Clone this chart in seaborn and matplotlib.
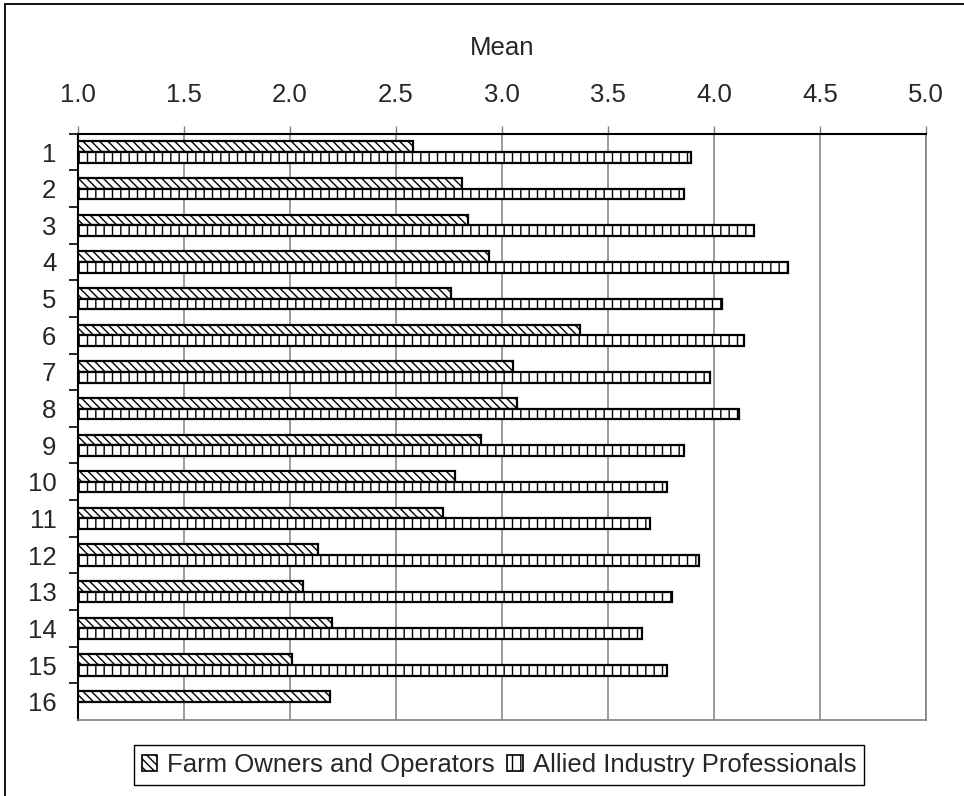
import numpy as np
import pandas as pd
import matplotlib
matplotlib.use("Agg")
import matplotlib.pyplot as plt
from matplotlib.patches import Patch
from matplotlib.lines import Line2D
import seaborn as sns

# %% data
items = [str(i) for i in range(1, 17)]
farm = [2.58, 2.81, 2.84, 2.94, 2.76, 3.37, 3.05, 3.07,
        2.90, 2.78, 2.72, 2.13, 2.06, 2.20, 2.01, 2.19]
allied = [3.89, 3.86, 4.19, 4.35, 4.04, 4.14, 3.98, 4.12,
          3.86, 3.78, 3.70, 3.93, 3.80, 3.66, 3.78, np.nan]
groups = ["Farm Owners and Operators", "Allied Industry Professionals"]
hatches = ["\\\\\\\\", "||"]

df = pd.DataFrame({
    "item": items * 2,
    "mean": farm + allied,
    "group": [groups[0]] * len(items) + [groups[1]] * len(items),
})
df = df.dropna()

# %% style
sns.set_theme(style="white")
plt.rcParams["font.family"] = ["Liberation Sans", "DejaVu Sans"]
plt.rcParams["font.size"] = 18
plt.rcParams["hatch.linewidth"] = 1.0
fs = 18.5

fig = plt.figure(figsize=(9.64, 7.96), dpi=100)
ax = fig.add_axes([78 / 964, 1 - 720 / 796, (926 - 78) / 964, (720 - 133.7) / 796])

sns.barplot(data=df, x="mean", y="item", hue="group", order=items,
            hue_order=groups, orient="h", width=0.58,
            palette={g: "white" for g in groups},
            edgecolor="black", linewidth=1.6, ax=ax, legend=False)

for cont, h in zip(ax.containers, hatches):
    for bar in cont:
        bar.set_hatch(h)

# %% axes
ax.set_xlim(1, 5)
ax.set_ylim(15.5, -0.5)
ax.set_xticks(np.arange(1.0, 5.01, 0.5))
ax.set_xticklabels([f"{v:.1f}" for v in np.arange(1.0, 5.01, 0.5)])
ax.xaxis.tick_top()
ax.xaxis.set_label_position("top")
ax.set_xlabel("Mean", labelpad=20, fontsize=fs)
ax.set_ylabel("")
ax.grid(axis="x", color="#808080", linewidth=1.1)
ax.set_axisbelow(True)

ax.tick_params(axis="x", which="major", top=True, bottom=False, length=5.5,
               width=1, color="#808080", pad=14, labelsize=fs)
ax.tick_params(axis="y", which="major", left=True, length=0, pad=15.5, labelsize=fs)
ax.set_yticks(np.arange(-0.5, 15, 1), minor=True)
ax.tick_params(axis="y", which="minor", left=True, length=6.5, width=1.2, color="black")

for side in ["top", "left"]:
    ax.spines[side].set_color("black")
    ax.spines[side].set_linewidth(1.5)
for side in ["right", "bottom"]:
    ax.spines[side].set_color("#808080")
    ax.spines[side].set_linewidth(1.2)

# %% legend
handles = [Patch(facecolor="white", edgecolor="black", hatch=h, linewidth=1.2)
           for h in hatches]
fig.legend(handles, groups, loc="center", bbox_to_anchor=(499 / 964, 1 - 765 / 796),
           ncol=2, frameon=True, fancybox=False, edgecolor="black", fontsize=fs,
           handlelength=0.6, handleheight=0.6, handletextpad=0.38,
           columnspacing=0.5, borderpad=0.3, borderaxespad=0, framealpha=1)
fig.legends[0].get_frame().set_linewidth(1.0)

# outer border (left and top only visible)
fig.add_artist(Line2D([5 / 964, 5 / 964], [0, 1 - 4 / 796], color="black", lw=1.3))
fig.add_artist(Line2D([5 / 964, 1], [1 - 4 / 796, 1 - 4 / 796], color="black", lw=1.3))

fig.savefig("out.png", dpi=100)
plt.close(fig)
